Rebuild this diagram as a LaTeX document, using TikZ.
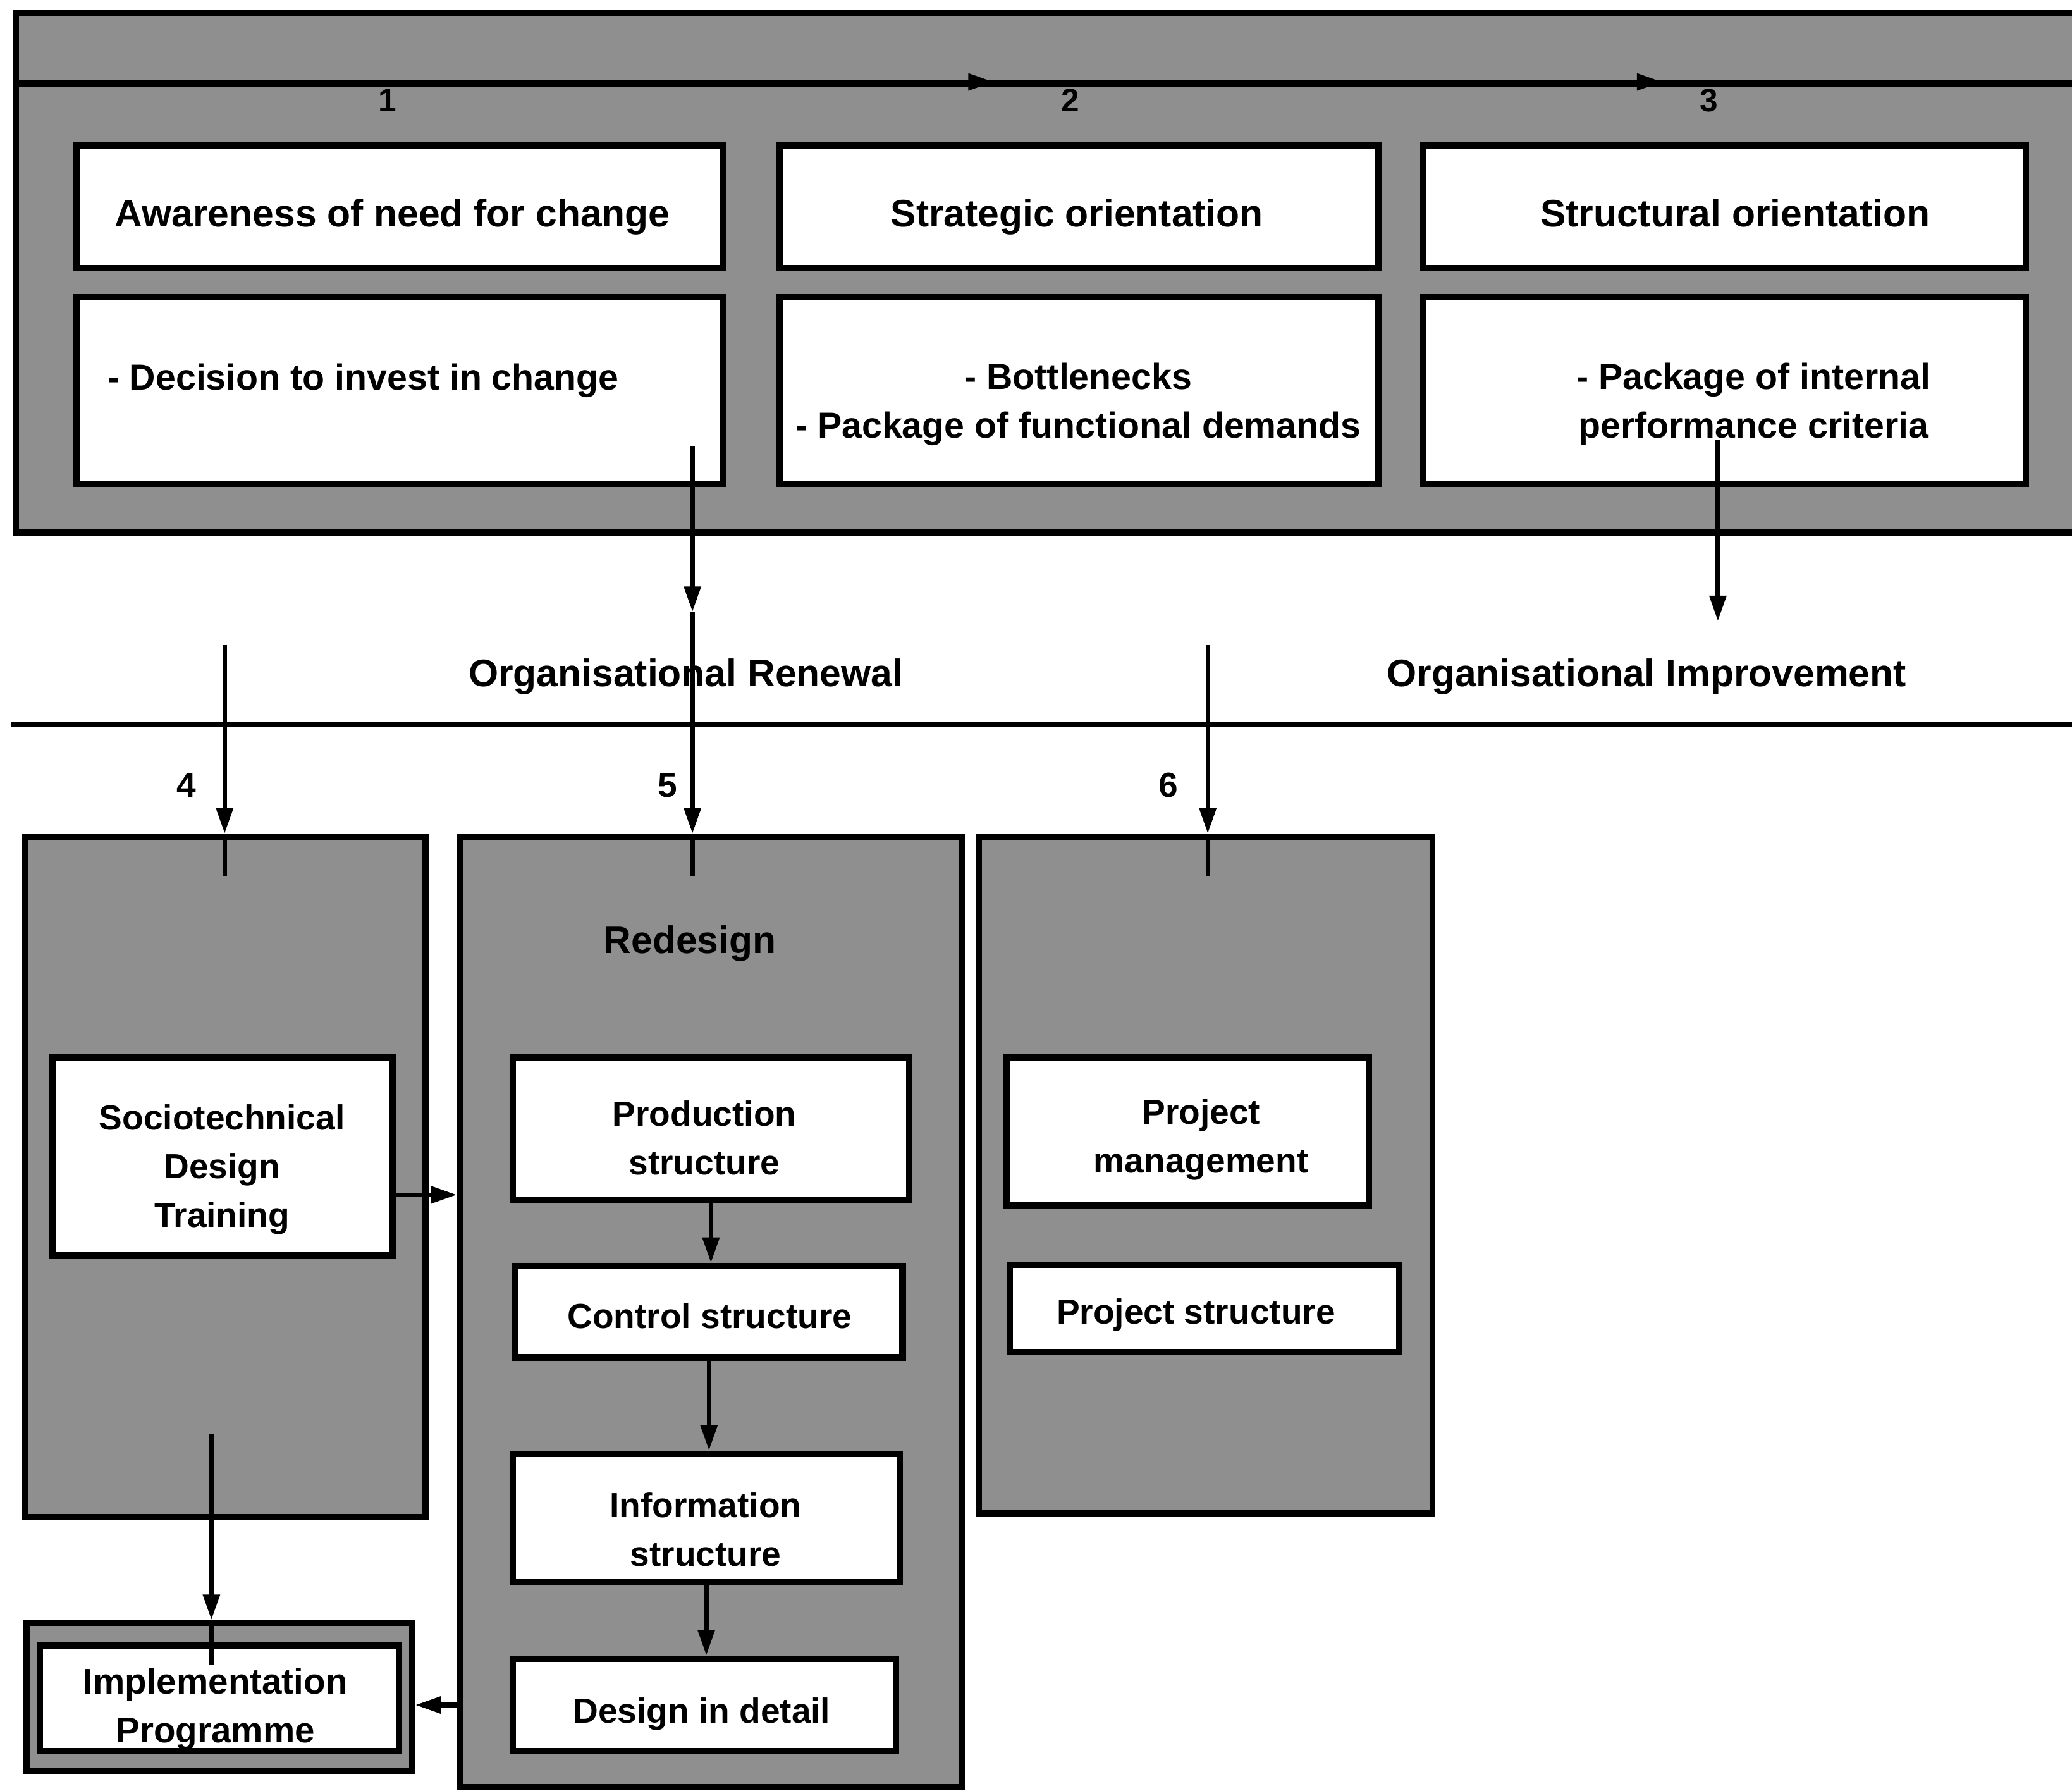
\documentclass[tikz,border=0pt]{standalone}
\usepackage{fontspec}
\setmainfont{Liberation Sans}
\usetikzlibrary{arrows.meta,fit,calc}
\begin{document}
\begin{tikzpicture}[x=0.02cm,y=-0.02cm,
  graybox/.style={draw, line width=2.6pt, fill=black!44, inner sep=0pt},
  wbox/.style={draw, line width=2.8pt, fill=white, inner sep=0pt},
  txt/.style={font=\bfseries\fontsize{15}{21}\selectfont, align=center, inner sep=0pt},
  head/.style={txt, font=\bfseries\fontsize{16.5}{21}\selectfont, text height=12pt, text depth=3.5pt},
  mid/.style={txt, font=\bfseries\fontsize{15.6}{21}\selectfont},
  one/.style={text height=11pt, text depth=3.2pt},
  num/.style={font=\bfseries\fontsize{14}{16}\selectfont, inner sep=0pt},
  plain/.style={line width=2pt},
  conn/.style={line width=2pt, -{Triangle[length=11pt,width=7pt]}},
]
\useasboundingbox (0,0) rectangle (1568,1355);

% ---------- top panel ----------
\node[graybox, fit={(12,10) (1585,403)}] (top) {};
\coordinate (divL) at (12,63);
\coordinate (divR) at (1585,63);
\draw[line width=3pt] (divL) -- (divR);
\coordinate (t1a) at (722,62); \coordinate (t1b) at (752,62);
\coordinate (t2a) at (1228,62); \coordinate (t2b) at (1258,62);
\draw[conn] (t1a) -- (t1b);
\draw[conn] (t2a) -- (t2b);
\node[num] (n1) at (293,76) {1};
\node[num] (n2) at (810,76) {2};
\node[num] (n3) at (1293,76) {3};

\node[wbox, fit={(58,110) (547,203)}] (b1) {};
\node[wbox, fit={(590,110) (1043,203)}] (b2) {};
\node[wbox, fit={(1077,110) (1533,203)}] (b3) {};
\node[wbox, fit={(58,225) (547,366)}] (b4) {};
\node[wbox, fit={(590,225) (1043,366)}] (b5) {};
\node[wbox, fit={(1077,225) (1533,366)}] (b6) {};

\node[head] (t1) at (297,164) {Awareness of need for change};
\node[head] (t2) at (815,164) {Strategic orientation};
\node[head] (t3) at (1313,164) {Structural orientation};
\node[mid, one, anchor=west] (t4) at (81,288) {- Decision to invest in change};
\node[mid] (t5) at (816,306) {- Bottlenecks\\- Package of functional demands};
\node[mid] (t6) at (1327,306) {- Package of internal\\performance criteria};

% ---------- middle ----------
\coordinate (hL) at (8,548);
\coordinate (hR) at (1585,548);
\draw[line width=2.6pt] (hL) -- (hR);
\node[head] (ren) at (519,512) {Organisational Renewal};
\node[head] (imp) at (1246,512) {Organisational Improvement};
\node[num, font=\bfseries\fontsize{15}{17}\selectfont] (n4) at (141,594) {4};
\node[num, font=\bfseries\fontsize{15}{17}\selectfont] (n5) at (505,594) {5};
\node[num, font=\bfseries\fontsize{15}{17}\selectfont] (n6) at (884,594) {6};

% ---------- columns ----------
\node[graybox, fit={(19,633) (322,1148)}] (c4) {};
\node[graybox, fit={(348,633) (728,1352)}] (c5) {};
\node[graybox, fit={(741,633) (1084,1145)}] (c6) {};

\node[head] (redes) at (522,714) {Redesign};

\node[wbox, fit={(40,800) (297,950)}] (soc) {};
\node[txt] (socT) at (168,885) {Sociotechnical\\Design\\Training};

\node[wbox, fit={(388,800) (688,908)}] (prod) {};
\node[txt] (prodT) at (533,861) {Production\\structure};
\node[wbox, fit={(390,958) (683,1027)}] (ctrl) {};
\node[txt, one] (ctrlT) at (537,998) {Control structure};
\node[wbox, fit={(388,1100) (681,1197)}] (info) {};
\node[txt] (infoT) at (534,1157) {Information\\structure};
\node[wbox, fit={(388,1255) (678,1325)}] (det) {};
\node[txt, one] (detT) at (531,1297) {Design in detail};

\node[wbox, fit={(762,800) (1036,912)}] (pm) {};
\node[txt] (pmT) at (909,862) {Project\\management};
\node[wbox, fit={(764,957) (1059,1023)}] (ps) {};
\node[txt, one] (psT) at (905,995) {Project structure};

\node[graybox, fit={(20,1228) (312,1340)}] (implO) {};
\node[wbox, fit={(30,1245) (302,1325)}] (implI) {};
\node[txt, font=\bfseries\fontsize{15.4}{21}\selectfont] (implT) at (163,1293) {Implementation\\Programme};

% ---------- connectors ----------
% from decision box down to redesign
\coordinate (dS) at (524,338);
\coordinate (dM) at (524,463);
\draw[conn] (dS) -- (dM);
\draw[conn] (dM) -- (dM |- c5.north);
\draw[plain] (dM |- c5.north) -- ++(0,32);
% from internal performance criteria
\coordinate (pS) at (1300,333);
\coordinate (pE) at (1300,470);
\draw[conn] (pS) -- (pE);
% 4 and 6
\coordinate (s4) at (170,488);
\draw[conn] (s4) -- (s4 |- c4.north);
\draw[plain] (s4 |- c4.north) -- ++(0,32);
\coordinate (s6) at (914,488);
\draw[conn] (s6) -- (s6 |- c6.north);
\draw[plain] (s6 |- c6.north) -- ++(0,32);
% sociotechnical -> redesign
\coordinate (a1) at (297,904);
\draw[conn] (a1) -- (a1 -| c5.west);
% redesign chain
\draw[conn] (prod.south) -- (prod.south |- ctrl.north);
\draw[conn] (ctrl.south) -- (ctrl.south |- info.north);
\draw[conn] (info.south) -- (info.south |- det.north);
% column 4 -> implementation
\coordinate (s7) at (160,1085);
\draw[conn] (s7) -- (s7 |- implO.north);
\draw[plain] (s7 |- implO.north) -- ++(0,34);
% redesign -> implementation
\coordinate (a2) at (348,1290);
\draw[conn] (a2) -- (a2 -| implO.east);
\end{tikzpicture}
\end{document}
